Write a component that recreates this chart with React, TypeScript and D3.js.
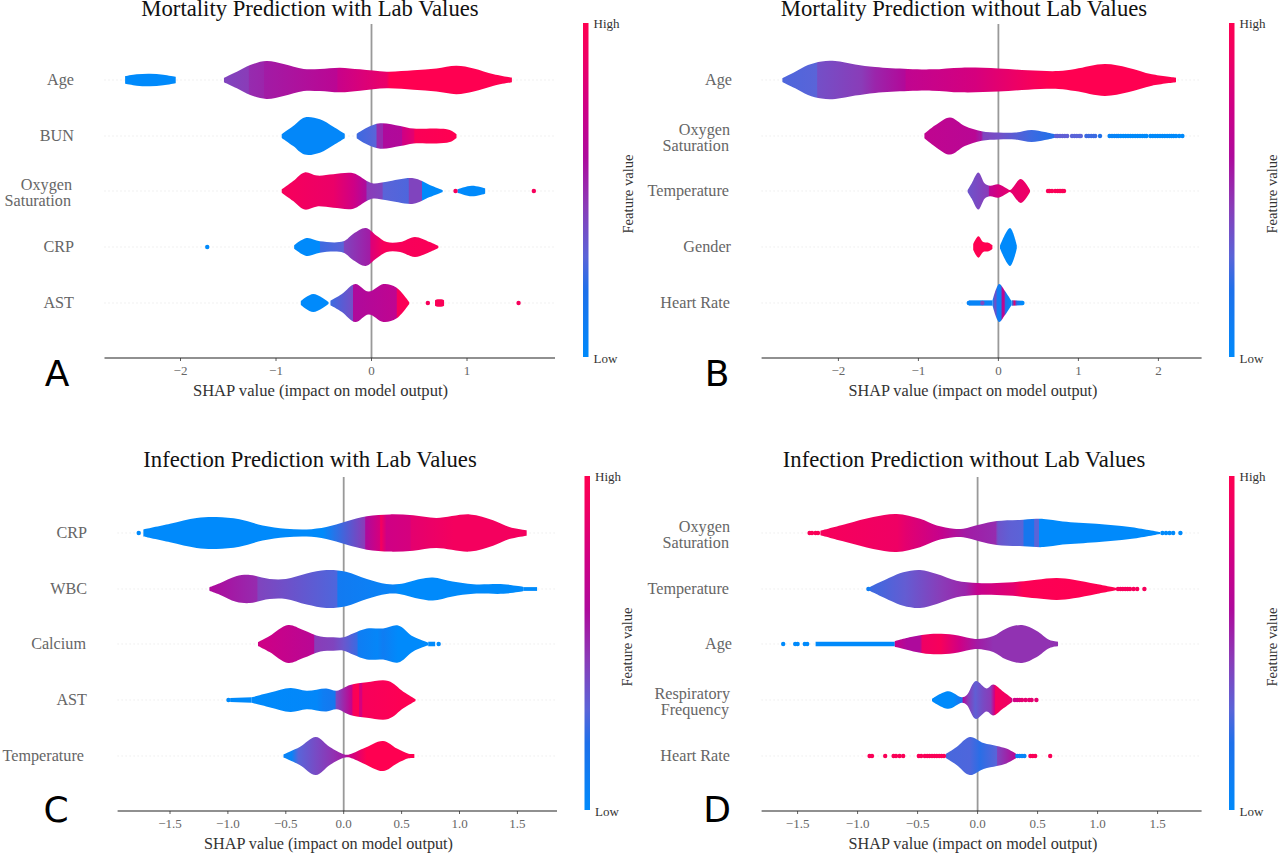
import React from "react";
import * as d3 from "d3";

type Pt = [number, number];
type Body = { shape: Pt[]; color: Pt[] };
type Row = { label: string[]; nudge?: number; bodies: Body[]; dots: Pt[] };

const colorStops = [0, 0.2, 0.3, 0.45, 0.6, 0.75, 0.9, 1];
const colorValues = ["#008afb", "#1e70ea", "#5a64d8", "#8a3cb8", "#ae0a9c", "#cf0085", "#ef0064", "#ff0051"];

// ---- Panel A
const aAge: Row = { label: ["Age"], bodies: [
  { shape: [[-2.58,.2],[-2.46,.3],[-2.32,.33],[-2.18,.28],[-2.05,.17]], color: [[-2.58,0],[-2.05,0]] },
  { shape: [[-1.545,.12],[-1.41,.44],[-1.27,.79],[-1.1,1],[-.92,.84],[-.71,.58],[-.54,.58],[-.33,.65],[-.12,.56],[.16,.44],[.44,.51],[.68,.61],[.89,.75],[1.07,.61],[1.28,.3],[1.47,.12]],
    color: [[-1.545,.42],[-1.29,.45],[-1.28,.5],[-1.13,.52],[-1.12,.55],[-.365,.66],[-.35,.72],[.16,.88],[.19,1],[1.47,1]] },
], dots: [] };
const aBun: Row = { label: ["BUN"], bodies: [
  { shape: [[-.94,.1],[-.82,.53],[-.7,.98],[-.54,.88],[-.4,.49],[-.28,.12]], color: [[-.94,.02],[-.28,.02]] },
  { shape: [[-.155,.12],[-.05,.44],[.09,.67],[.3,.53],[.44,.39],[.68,.39],[.82,.32],[.89,.1]],
    color: [[-.155,.25],[.05,.3],[.055,.5],[.12,.5],[.125,.6],[.315,.62],[.325,.75],[.44,.85],[.455,.97],[.89,1]] },
], dots: [] };
const aOxy: Row = { label: ["Oxygen", "Saturation"], bodies: [
  { shape: [[-.94,.09],[-.82,.53],[-.7,.98],[-.57,.81],[-.4,.88],[-.19,.93],[-.05,.53],[.02,.4],[.16,.49],[.44,.67],[.61,.32],[.745,.05]],
    color: [[-.94,.95],[-.4,.88],[-.19,.75],[-.06,.6],[-.045,.45],[.11,.42],[.125,.3],[.385,.28],[.395,.42],[.525,.42],[.53,0],[.745,0]] },
  { shape: [[.9,.09],[1.05,.28],[1.19,.14]], color: [[.9,0],[1.19,0]] },
], dots: [[.88,.95],[1.7,.95]] };
const aCrp: Row = { label: ["CRP"], bodies: [
  { shape: [[-.81,.09],[-.68,.47],[-.54,.3],[-.295,.3],[-.19,.7],[-.06,1],[.05,.61],[.16,.26],[.3,.26],[.455,.53],[.61,.26],[.7,.05]],
    color: [[-.81,0],[-.545,0],[-.535,.25],[-.295,.3],[-.285,.42],[-.015,.55],[-.008,.8],[.12,.95],[.7,.97]] },
], dots: [[-1.72,0]] };
const aAst: Row = { label: ["AST"], bodies: [
  { shape: [[-.74,.1],[-.61,.47],[-.45,.05]], color: [[-.74,0],[-.45,0]] },
  { shape: [[-.43,.12],[-.31,.47],[-.17,1],[-.03,.6],[.125,1],[.26,.82],[.395,.05]],
    color: [[-.43,.25],[-.197,.38],[-.19,.6],[.26,.68],[.268,.95],[.395,1]] },
  { shape: [[.665,.14],[.68,.18],[.745,.18],[.76,.14]], color: [[.665,.97],[.76,.97]] },
], dots: [[.59,.95],[1.54,.95]] };

// ---- Panel B
const bAge: Row = { label: ["Age"], bodies: [
  { shape: [[-2.7,.1],[-2.54,.44],[-2.38,.79],[-2.21,.98],[-2.04,1],[-1.79,.82],[-1.54,.68],[-1.13,.58],[-.83,.56],[-.46,.65],[0,.61],[.37,.51],[.75,.47],[.96,.58],[1.33,.84],[1.62,.65],[1.92,.3],[2.22,.12]],
    color: [[-2.7,.28],[-2.27,.3],[-2.26,.38],[-1.71,.45],[-1.54,.52],[-1.17,.62],[-1.15,.68],[-.29,.78],[.37,.93],[.67,1],[2.22,1]] },
], dots: [] };
const bOxy: Row = { label: ["Oxygen", "Saturation"], bodies: [
  { shape: [[-.925,.12],[-.79,.56],[-.605,.98],[-.42,.53],[-.21,.25],[0,.18],[.21,.18],[.415,.32],[.58,.21],[.71,.09]],
    color: [[-.925,.68],[-.29,.65],[-.23,.55],[-.22,.6],[-.19,.42],[0,.38],[.415,.25],[.71,.2]] },
], dots: [[.72,.32],[.74,.32],[.77,.32],[.8,.32],[.83,.32],[.86,.32],[.92,.3],[.95,.3],[.98,.3],[1.01,.3],[1.03,.3],[1.1,.25],[1.13,.25],[1.16,.25],[1.19,.25],[1.21,.25],[1.27,.2],[1.39,.05],[1.42,.05],[1.45,.05],[1.48,.05],[1.5,.05],[1.53,0],[1.56,0],[1.59,0],[1.62,0],[1.65,0],[1.68,0],[1.71,0],[1.74,0],[1.77,0],[1.8,0],[1.83,0],[1.85,0],[1.9,0],[1.93,0],[1.96,0],[1.99,0],[2.02,0],[2.05,0],[2.08,0],[2.11,0],[2.14,0],[2.165,0],[2.19,0],[2.22,0],[2.26,0],[2.3,0]] };
const bTemp: Row = { label: ["Temperature"], nudge: -3, bodies: [
  { shape: [[-.385,.05],[-.335,.4],[-.25,.98],[-.17,.4],[-.105,.28],[0,.35],[.1,.14],[.145,.05],[.28,.63],[.395,.05]],
    color: [[-.385,.36],[-.125,.45],[-.115,.68],[0,.78],[.125,.85],[.395,.9]] },
], dots: [[.62,.97],[.64,.97],[.67,.97],[.71,.97],[.74,.97],[.76,.97],[.78,.97],[.8,.97],[.82,.97]] };
const bGender: Row = { label: ["Gender"], nudge: -1, bodies: [
  { shape: [[-.315,.15],[-.25,.56],[-.19,.26],[-.125,.23],[-.075,.1]], color: [[-.315,1],[-.075,1]] },
  { shape: [[.02,.08],[.145,1],[.23,.08]], color: [[.02,0],[.23,0]] },
], dots: [] };
const bHeart: Row = { label: ["Heart Rate"], nudge: -2, bodies: [
  { shape: [[-.37,.14],[-.075,.14]], color: [[-.37,.05],[-.075,.05]] },
  { shape: [[-.075,.1],[.01,1],[.08,.65],[.165,.1]],
    color: [[-.075,.05],[-.04,.4],[-.01,.1],[.03,.1],[.05,.65],[.07,.7],[.09,.15],[.165,0]] },
  { shape: [[.165,.14],[.3,.12]], color: [[.165,0],[.2,.85],[.23,.2],[.3,0]] },
], dots: [[-.37,.05],[-.2,.4],[.3,0]] };

// ---- Panel C
const cCrp: Row = { label: ["CRP"], bodies: [
  { shape: [[-1.73,.19],[-1.5,.49],[-1.27,.79],[-1.1,.84],[-.9,.72],[-.7,.4],[-.5,.23],[-.32,.19],[-.15,.32],[.02,.61],[.2,.88],[.4,.98],[.6,.93],[.8,.79],[1.09,.98],[1.29,.67],[1.43,.32],[1.58,.14]],
    color: [[-1.73,0],[-.18,0],[.18,.45],[.19,.6],[.31,.78],[.32,.95],[.37,.75],[.57,.78],[.585,.85],[.95,.93],[1.58,.93]] },
], dots: [[-1.77,0]] };
const cWbc: Row = { label: ["WBC"], bodies: [
  { shape: [[-1.16,.09],[-1.07,.3],[-.93,.67],[-.81,.74],[-.64,.53],[-.5,.53],[-.32,.82],[-.15,1],[.02,.91],[.2,.53],[.37,.26],[.48,.26],[.66,.53],[.77,.61],[.94,.39],[1.12,.25],[1.38,.25],[1.55,.12]],
    color: [[-1.16,.6],[-.75,.5],[-.74,.42],[-.06,.28],[-.05,.12],[.45,.05],[.465,0],[1.55,0]] },
  { shape: [[1.55,.1],[1.67,.1]], color: [[1.55,0],[1.67,0]] },
], dots: [] };
const cCal: Row = { label: ["Calcium"], nudge: -1, bodies: [
  { shape: [[-.74,.1],[-.64,.42],[-.48,1],[-.35,.74],[-.2,.39],[-.09,.35],[0,.35],[.085,.56],[.2,.81],[.34,.82],[.47,.98],[.6,.39],[.73,.07]],
    color: [[-.74,.75],[-.26,.65],[-.25,.45],[-.09,.42],[0,.35],[.115,.25],[.125,.1],[.29,.03],[.34,.1],[.47,0],[.73,0]] },
  { shape: [[.73,.12],[.79,.12]], color: [[.73,0],[.79,0]] },
], dots: [[.82,0]] };
const cAst: Row = { label: ["AST"], bodies: [
  { shape: [[-.98,.1],[-.795,.14]], color: [[-.98,0],[-.795,0]] },
  { shape: [[-.795,.14],[-.635,.39],[-.46,.63],[-.32,.49],[-.15,.61],[-.06,.49],[.055,.79],[.2,.93],[.385,1],[.515,.44],[.62,.05]],
    color: [[-.795,0],[-.235,.02],[-.175,.1],[-.075,.15],[-.065,.4],[.07,.7],[.08,.95],[.13,1],[.135,.78],[.155,.78],[.165,.95],[.62,1]] },
], dots: [[-.995,0]] };
const cTemp: Row = { label: ["Temperature"], nudge: -3, bodies: [
  { shape: [[-.52,.08],[-.38,.47],[-.24,1],[-.12,.47],[0,.09],[.04,.07],[.17,.39],[.34,.79],[.46,.39],[.56,.12],[.61,.1]],
    color: [[-.52,.05],[-.45,.05],[-.39,.3],[-.23,.4],[-.09,.48],[.01,.55],[.04,.7],[.2,1],[.61,1]] },
], dots: [] };

// ---- Panel D
const dOxy: Row = { label: ["Oxygen", "Saturation"], bodies: [
  { shape: [[-1.31,.12],[-1.09,.49],[-.87,.84],[-.675,1],[-.48,.75],[-.34,.4],[-.2,.23],[-.12,.23],[.02,.45],[.16,.63],[.38,.7],[.55,.74],[.71,.61],[.99,.49],[1.27,.32],[1.52,.05]],
    color: [[-1.31,.95],[-.67,.9],[-.6,.85],[-.3,.7],[-.1,.55],[.15,.5],[.16,.42],[.17,.36],[.26,.32],[.38,.3],[.385,.15],[.47,.15],[.475,.3],[.51,.3],[.515,0],[1.52,0]] },
], dots: [[-1.4,.97],[-1.38,.97],[-1.35,.97],[-1.33,.97],[1.54,0],[1.57,0],[1.6,0],[1.63,0],[1.69,0]] };
const dTemp: Row = { label: ["Temperature"], nudge: -3, bodies: [
  { shape: [[-.9,.09],[-.73,.6],[-.62,.88],[-.48,1],[-.34,.79],[-.175,.44],[0,.32],[.16,.32],[.35,.39],[.49,.49],[.66,.58],[.8,.49],[.99,.26],[1.16,.05]],
    color: [[-.9,.25],[-.6,.33],[-.3,.45],[-.1,.52],[0,.7],[.3,.85],[.38,.98],[1.16,1]] },
], dots: [[-.91,.1],[1.17,.95],[1.19,.95],[1.21,.95],[1.23,.95],[1.25,.95],[1.27,.95],[1.3,.95],[1.33,.95],[1.39,.95]] };
const dAge: Row = { label: ["Age"], bodies: [
  { shape: [[-1.35,.12],[-.69,.12]], color: [[-1.35,0],[-.69,0]] },
  { shape: [[-.69,.15],[-.535,.39],[-.395,.53],[-.2,.49],[-.06,.3],[0,.26],[.13,.42],[.24,.82],[.37,1],[.49,.7],[.6,.21],[.67,.12]],
    color: [[-.69,.72],[-.59,.6],[-.48,.6],[-.46,.9],[-.31,.95],[-.15,.75],[0,.55],[.13,.48],[.67,.48]] },
], dots: [[-1.62,0],[-1.52,0],[-1.5,0],[-1.44,0],[-1.42,0]] };
const dResp: Row = { label: ["Respiratory", "Frequency"], nudge: -1, bodies: [
  { shape: [[-.38,.06],[-.245,.46],[-.13,.14],[-.09,.26],[-.015,1],[.075,.61],[.13,.82],[.215,.44],[.29,.09]],
    color: [[-.38,0],[-.2,0],[-.13,.2],[-.12,.6],[-.08,.45],[-.02,.32],[.05,.4],[.11,.45],[.14,.75],[.15,.95],[.27,.9],[.29,.7]] },
], dots: [[.31,.75],[.33,.75],[.35,.8],[.37,.85],[.4,.85],[.43,.85],[.45,.85],[.49,.85]] };
const dHeart: Row = { label: ["Heart Rate"], nudge: -2, bodies: [
  { shape: [[-.265,.1],[-.175,.47],[-.065,1],[.05,.68],[.16,.53],[.24,.39],[.32,.12]],
    color: [[-.265,.27],[-.065,.28],[.02,.22],[.16,.3],[.165,.42],[.32,.65]] },
], dots: [[-.9,.97],[-.88,.97],[-.77,.97],[-.7,.97],[-.68,.97],[-.65,.97],[-.62,.97],[-.49,.97],[-.47,.97],[-.44,.97],[-.42,.97],[-.4,.97],[-.38,.97],[-.36,.97],[-.34,.97],[-.32,.97],[-.3,.97],[-.28,.97],[.33,.05],[.35,.05],[.37,.05],[.39,.05],[.44,.97],[.46,.97],[.48,.97],[.605,.97]] };

const aRows = [aAge, aBun, aOxy, aCrp, aAst];
const bRows = [bAge, bOxy, bTemp, bGender, bHeart];
const cRows = [cCrp, cWbc, cCal, cAst, cTemp];
const dRows = [dOxy, dTemp, dAge, dResp, dHeart];

const aTicks = [-2, -1, 0, 1];
const bTicks = [-2, -1, 0, 1, 2];
const halfTicks = [-1.5, -1, -0.5, 0, 0.5, 1, 1.5];

const colorScale = d3.scaleLinear<string>().domain(colorStops).range(colorValues).interpolate(d3.interpolateRgb);
const serif = "'Liberation Serif', serif";

type PanelProps = {
  id: string; letter: string; title: string; rows: Row[]; ticks: number[]; tickFmt: string;
  zero: number; unit: number; axisL: number; axisR: number; topY: number; axisY: number; rowYs: number[];
  barX: number; labelR: number; titleX: number; titleY: number; letterX: number; letterY: number;
  featX: number; xlabX: number; xlabFont: number;
};

function Panel(p: PanelProps) {
  const x = d3.scaleLinear().domain([0, 1]).range([p.zero, p.zero + p.unit]);
  const band = d3.scaleLinear().domain([0, 1]).range([0, 19]);
  const fmt = (v: number) => d3.format(p.tickFmt)(v).replace("-", "\u2212");
  return (
    <g>
      <text x={p.titleX} y={p.titleY} textAnchor="middle" fontFamily={serif} fontSize={22.7} fill="#111">{p.title}</text>
      {p.rowYs.map((y, i) => (
        <line key={i} x1={p.axisL} x2={p.axisR} y1={y} y2={y} stroke="#ccc" strokeWidth={0.7} strokeDasharray="1,3" opacity={0.7} />
      ))}
      <line x1={x(0)} x2={x(0)} y1={p.topY} y2={p.axisY} stroke="#999" strokeWidth={1.8} />
      {p.rows.map((r, i) => {
        const y = p.rowYs[i];
        const area = d3.area<Pt>().x(d => x(d[0])).y0(d => y - band(d[1])).y1(d => y + band(d[1])).curve(d3.curveCatmullRom.alpha(0.5));
        return (
          <g key={i}>
            {r.label.length === 1 ? (
              <text x={p.labelR + (r.nudge || 0)} y={y + 5} textAnchor="end" fontFamily={serif} fontSize={16.2} fill="#666">{r.label[0]}</text>
            ) : (
              <text y={y - 1} textAnchor="end" fontFamily={serif} fontSize={16.2} fill="#666">
                {r.label.map((t, j) => (
                  <tspan key={j} x={p.labelR - 2 - j} dy={j === 0 ? 0 : 16}>{t}</tspan>
                ))}
              </text>
            )}
            {r.bodies.map((b, k) => {
              const gid = `g-${p.id}-${i}-${k}`;
              const cx0 = b.color[0][0];
              const cx1 = b.color[b.color.length - 1][0];
              return (
                <g key={k}>
                  <defs>
                    <linearGradient id={gid} gradientUnits="userSpaceOnUse" x1={x(cx0)} x2={x(cx1)} y1={0} y2={0}>
                      {b.color.map((c, m) => (
                        <stop key={m} offset={(c[0] - cx0) / (cx1 - cx0)} stopColor={colorScale(c[1])} />
                      ))}
                    </linearGradient>
                  </defs>
                  <path d={area(b.shape) || ""} fill={`url(#${gid})`} />
                </g>
              );
            })}
            {r.dots.map((d, k) => (
              <circle key={k} cx={x(d[0])} cy={y} r={2.2} fill={colorScale(d[1])} />
            ))}
          </g>
        );
      })}
      <line x1={p.axisL} x2={p.axisR} y1={p.axisY} y2={p.axisY} stroke="#222" strokeWidth={1.1} />
      {p.ticks.map(t => (
        <g key={t}>
          <line x1={x(t)} x2={x(t)} y1={p.axisY} y2={p.axisY + 3} stroke="#333" strokeWidth={0.8} />
          <text x={x(t)} y={p.axisY + 17} textAnchor="middle" fontFamily={serif} fontSize={13} fill="#666">{fmt(t)}</text>
        </g>
      ))}
      <text x={p.xlabX} y={p.axisY + 38} textAnchor="middle" fontFamily={serif} fontSize={p.xlabFont} fill="#333">SHAP value (impact on model output)</text>
      <defs>
        <linearGradient id={`bar-${p.id}`} x1={0} x2={0} y1={1} y2={0}>
          {colorStops.map((s, i) => <stop key={i} offset={s} stopColor={colorValues[i]} />)}
        </linearGradient>
      </defs>
      <rect x={p.barX} y={p.topY - 1} width={5.5} height={p.axisY - p.topY} fill={`url(#bar-${p.id})`} />
      <text x={p.barX + 10.5} y={p.topY + 4} fontFamily={serif} fontSize={13} fill="#333">High</text>
      <text x={p.barX + 10.5} y={p.axisY + 5} fontFamily={serif} fontSize={13} fill="#333">Low</text>
      <text transform={`translate(${p.featX},${(p.topY + p.axisY) / 2 + 3}) rotate(-90)`} textAnchor="middle" fontFamily={serif} fontSize={14.6} fill="#333">Feature value</text>
      <text x={p.letterX} y={p.letterY} textAnchor="middle" fontFamily="'DejaVu Sans', sans-serif" fontSize={36} fill="#000">{p.letter}</text>
    </g>
  );
}

const rowsTop = [80, 136, 191, 247, 303];
const rowsBottom = [533, 589, 644, 700, 756];

export default function App() {
  return (
    <svg width={1280} height={855} viewBox="0 0 1280 855" style={{ position: "absolute", left: 0, top: 0, background: "#fff" }}>
      <Panel id="a" letter="A" title="Mortality Prediction with Lab Values" rows={aRows} ticks={aTicks} tickFmt="d"
        zero={371.5} unit={95.5} axisL={104.5} axisR={555} topY={24} axisY={358} rowYs={rowsTop}
        barX={583} labelR={74} titleX={310} titleY={16} letterX={57} letterY={386} featX={633} xlabX={320.5} xlabFont={16.6} />
      <Panel id="b" letter="B" title="Mortality Prediction without Lab Values" rows={bRows} ticks={bTicks} tickFmt="d"
        zero={998.4} unit={80} axisL={761.6} axisR={1201.6} topY={24} axisY={358} rowYs={rowsTop}
        barX={1229} labelR={732} titleX={964} titleY={16} letterX={717} letterY={386} featX={1277} xlabX={973} xlabFont={16.2} />
      <Panel id="c" letter="C" title="Infection Prediction with Lab Values" rows={cRows} ticks={halfTicks} tickFmt=".1f"
        zero={343.7} unit={115.8} axisL={117.6} axisR={557} topY={477} axisY={811} rowYs={rowsBottom}
        barX={584.5} labelR={87} titleX={310} titleY={467} letterX={56} letterY={822} featX={632} xlabX={328.5} xlabFont={16.2} />
      <Panel id="d" letter="D" title="Infection Prediction without Lab Values" rows={dRows} ticks={halfTicks} tickFmt=".1f"
        zero={977.6} unit={120} axisL={761.6} axisR={1201.6} topY={477} axisY={811} rowYs={rowsBottom}
        barX={1229} labelR={732} titleX={964} titleY={467} letterX={717} letterY={822} featX={1277} xlabX={973} xlabFont={16.2} />
    </svg>
  );
}
